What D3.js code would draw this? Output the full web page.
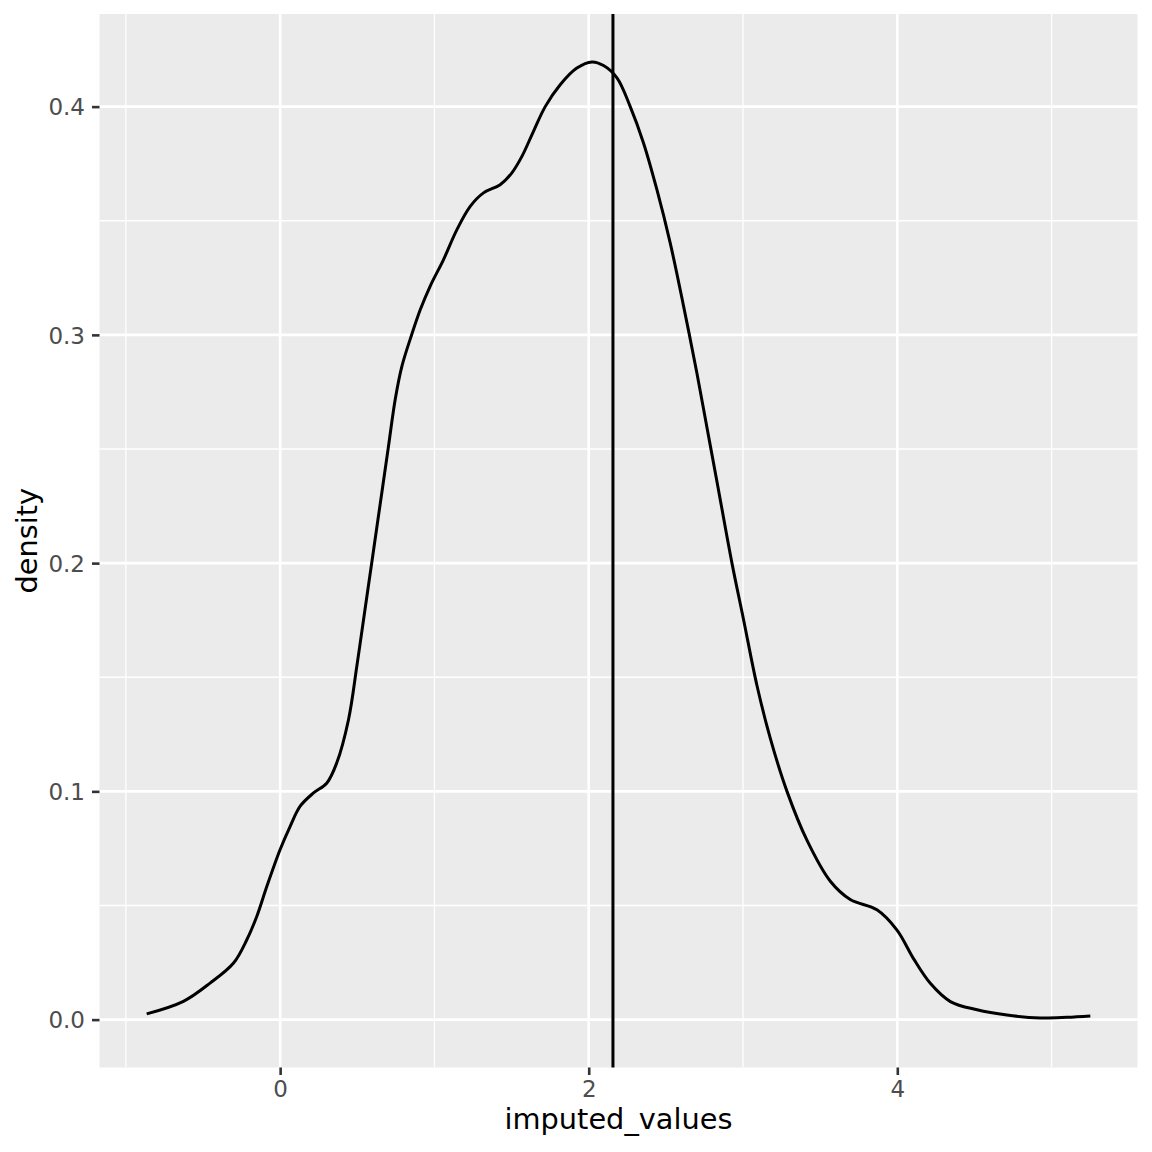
<!DOCTYPE html>
<html>
<head>
<meta charset="utf-8">
<script src="https://cdnjs.cloudflare.com/ajax/libs/d3/7.8.5/d3.min.js"></script>
<style>
  body { margin: 0; background: #fff; }
  svg { display: block; font-family: "DejaVu Sans", sans-serif; }
</style>
</head>
<body>
<script>
// density estimate
var densX = [-0.865, -0.627, -0.454, -0.302, -0.216, -0.151, -0.086, 0.0, 0.065, 0.130,
             0.216, 0.303, 0.367, 0.443, 0.497, 0.540, 0.594, 0.648, 0.702, 0.746,
             0.789, 0.854, 0.908, 0.972, 1.059, 1.145, 1.232, 1.318, 1.426, 1.502,
             1.567, 1.642, 1.718, 1.815, 1.923, 2.021, 2.096, 2.183, 2.269, 2.355,
             2.442, 2.528, 2.615, 2.701, 2.766, 2.831, 2.928, 3.004, 3.09, 3.177,
             3.285, 3.415, 3.566, 3.695, 3.868, 3.998, 4.106, 4.214, 4.344, 4.517,
             4.711, 4.927, 5.1, 5.251];
var densY = [0.0025, 0.008, 0.016, 0.0248, 0.035, 0.0453, 0.0584, 0.0745, 0.0847, 0.0935,
             0.0993, 0.1037, 0.1125, 0.1314, 0.1548, 0.175, 0.2003, 0.2257, 0.2511, 0.2718,
             0.2862, 0.3004, 0.311, 0.3213, 0.333, 0.346, 0.3563, 0.3622, 0.3658, 0.371,
             0.3782, 0.3892, 0.400, 0.4096, 0.4169, 0.4196, 0.418, 0.4126, 0.400, 0.3841,
             0.3636, 0.3403, 0.3125, 0.2833, 0.2595, 0.2358, 0.2001, 0.1751, 0.1465, 0.1232,
             0.100, 0.0785, 0.0606, 0.0526, 0.0481, 0.0392, 0.0266, 0.0159, 0.0079, 0.0043,
             0.002, 0.0007, 0.001, 0.0016];
var meanLine = 2.157;

var xMajor = [0, 2, 4];
var xMinor = [-1, 1, 3, 5];
var yMajor = [0, 0.1, 0.2, 0.3, 0.4];
var yMinor = [0.05, 0.15, 0.25, 0.35];

var xTitle = "imputed_values";
var yTitle = "density";

var width = 1152, height = 1152;
var panel = {left: 99.5, right: 1137.5, top: 14, bottom: 1067.5};

var svg = d3.select("body").append("svg").attr("width", width).attr("height", height);

// ggplot-style 5% expansion
var xr = d3.extent(densX), yr = [0, d3.max(densY)];
var xPad = (xr[1] - xr[0]) * 0.05, yPad = (yr[1] - yr[0]) * 0.05;
var x = d3.scaleLinear().domain([xr[0] - xPad, xr[1] + xPad]).range([panel.left, panel.right]);
var y = d3.scaleLinear().domain([yr[0] - yPad, yr[1] + yPad]).range([panel.bottom, panel.top]);

svg.append("rect").attr("x", panel.left).attr("y", panel.top)
   .attr("width", panel.right - panel.left).attr("height", panel.bottom - panel.top)
   .attr("fill", "#EBEBEB");

var grid = svg.append("g");
grid.selectAll(".xmin").data(xMinor).enter().append("line")
    .attr("x1", function(d){return x(d);}).attr("x2", function(d){return x(d);})
    .attr("y1", panel.top).attr("y2", panel.bottom)
    .attr("stroke", "#fff").attr("stroke-width", 1.3);
grid.selectAll(".ymin").data(yMinor).enter().append("line")
    .attr("y1", function(d){return y(d);}).attr("y2", function(d){return y(d);})
    .attr("x1", panel.left).attr("x2", panel.right)
    .attr("stroke", "#fff").attr("stroke-width", 1.3);
grid.selectAll(".xmaj").data(xMajor).enter().append("line")
    .attr("x1", function(d){return x(d);}).attr("x2", function(d){return x(d);})
    .attr("y1", panel.top).attr("y2", panel.bottom)
    .attr("stroke", "#fff").attr("stroke-width", 2.6);
grid.selectAll(".ymaj").data(yMajor).enter().append("line")
    .attr("y1", function(d){return y(d);}).attr("y2", function(d){return y(d);})
    .attr("x1", panel.left).attr("x2", panel.right)
    .attr("stroke", "#fff").attr("stroke-width", 2.6);

var pts = densX.map(function(d, i){return [d, densY[i]];});
var line = d3.line().x(function(d){return x(d[0]);}).y(function(d){return y(d[1]);})
             .curve(d3.curveCatmullRom.alpha(0.5));
svg.append("path").attr("d", line(pts)).attr("fill", "none")
   .attr("stroke", "#000").attr("stroke-width", 3);

svg.append("line").attr("x1", x(meanLine)).attr("x2", x(meanLine))
   .attr("y1", panel.top).attr("y2", panel.bottom)
   .attr("stroke", "#000").attr("stroke-width", 3);

// axes
var xAxis = d3.axisBottom(x).tickValues(xMajor).tickSize(7.5).tickPadding(5)
              .tickFormat(d3.format("d"));
var yAxis = d3.axisLeft(y).tickValues(yMajor).tickSize(7.5).tickPadding(5)
              .tickFormat(d3.format(".1f"));

var gx = svg.append("g").attr("transform", "translate(0," + panel.bottom + ")").call(xAxis);
var gy = svg.append("g").attr("transform", "translate(" + panel.left + ",0)").call(yAxis);
[gx, gy].forEach(function(g) {
    g.select(".domain").remove();
    g.selectAll(".tick line").attr("stroke", "#333333").attr("stroke-width", 2.6);
    g.selectAll(".tick text").attr("fill", "#4D4D4D").style("font-size", "23px")
     .style("font-family", "'DejaVu Sans', sans-serif");
});
gy.selectAll(".tick text").attr("x", -14.5).attr("dy", "0.36em");
gx.selectAll(".tick text").attr("y", 29.5).attr("dy", 0);

svg.append("text").attr("x", (panel.left + panel.right) / 2).attr("y", 1128.5)
   .attr("text-anchor", "middle").style("font-size", "28.8px").attr("fill", "#000")
   .text(xTitle);
svg.append("text").attr("transform", "translate(36.7," + ((panel.top + panel.bottom) / 2) + ") rotate(-90)")
   .attr("text-anchor", "middle").style("font-size", "28.8px").attr("fill", "#000")
   .text(yTitle);
</script>
</body>
</html>
